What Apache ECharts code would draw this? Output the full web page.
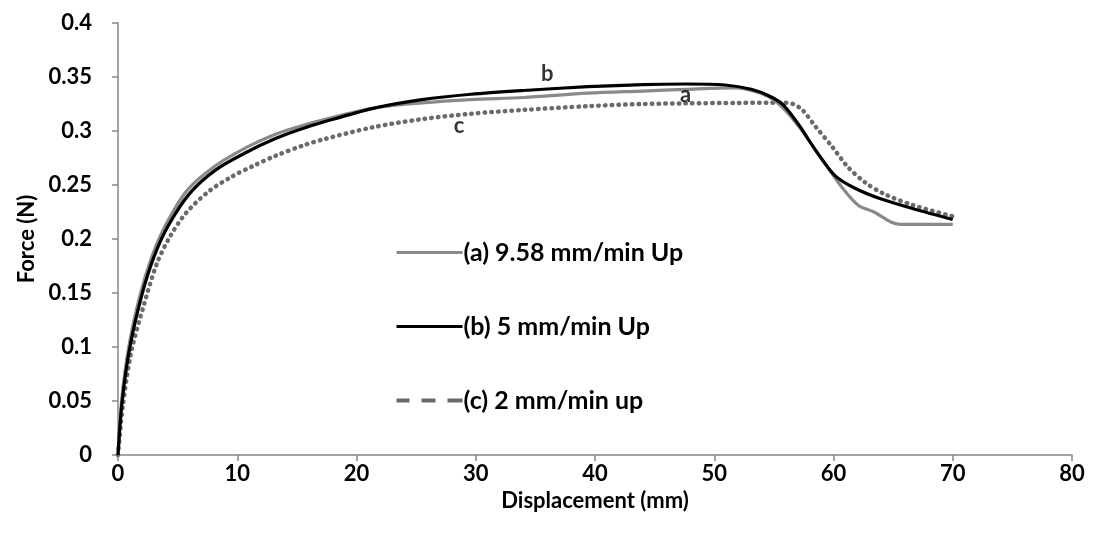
<!DOCTYPE html>
<html>
<head>
<meta charset="utf-8">
<script src="https://cdn.jsdelivr.net/npm/echarts@6/dist/echarts.min.js"></script>
<style>
html,body{margin:0;padding:0;background:#fff;}
#chart{width:1113px;height:542px;}
</style>
</head>
<body>
<div id="chart"></div>
<script>
// Series (a) 9.58 mm/min Up
const xA = [0, 0.3, 0.9, 1.85, 2.85, 4.0, 5.8, 8.2, 10.9, 13.2, 15, 17.3, 21.4, 25.5, 29.6, 34, 39.4, 44, 47.6, 51.7, 53.9, 55.2, 56.9, 59.1, 60.7, 62.1, 63.4, 64.8, 65.6, 70];
const yA = [0, 0.05, 0.1, 0.148, 0.184, 0.213, 0.245, 0.268, 0.2855, 0.297, 0.3035, 0.3105, 0.3212, 0.326, 0.329, 0.331, 0.335, 0.337, 0.3386, 0.340, 0.335, 0.327, 0.307, 0.273, 0.248, 0.231, 0.225, 0.2157, 0.2136, 0.2136];
// Series (b) 5 mm/min Up
const xB = [0, 0.35, 1.0, 2.0, 3.0, 4.2, 6, 8.2, 10.9, 13.2, 15, 17.3, 21.4, 25.5, 29.6, 34, 39.4, 44, 47.6, 50.9, 53.1, 54.7, 55.8, 57.2, 58.5, 60.1, 61.8, 64, 66.7, 70];
const yB = [0, 0.05, 0.1, 0.148, 0.183, 0.212, 0.242, 0.264, 0.281, 0.293, 0.3005, 0.3085, 0.321, 0.329, 0.334, 0.3375, 0.341, 0.343, 0.3435, 0.3426, 0.3386, 0.332, 0.324, 0.304, 0.282, 0.259, 0.247, 0.237, 0.228, 0.218];
// Series (c) 2 mm/min up
const xC = [0, 0.4, 1.1, 2.2, 3.25, 4.35, 5.7, 7.6, 9.5, 11.4, 13.2, 15.5, 17.3, 21.4, 25.5, 29.6, 34, 39.4, 44, 47.6, 52, 55.8, 56.6, 57.4, 58.5, 59.9, 61.2, 62.6, 64.2, 66.7, 70];
const yC = [0, 0.045, 0.095, 0.14, 0.177, 0.202, 0.224, 0.244, 0.2575, 0.268, 0.277, 0.2865, 0.2925, 0.3035, 0.311, 0.316, 0.3195, 0.323, 0.325, 0.3256, 0.326, 0.3262, 0.325, 0.3194, 0.304, 0.2853, 0.2667, 0.2528, 0.242, 0.2312, 0.221];

const seriesNames = ['(a) 9.58 mm/min Up', '(b) 5 mm/min Up', '(c) 2 mm/min up'];
const seriesColors = ['#8a8a8a', '#000000', '#6a6a6a'];
const curveTags = ['a', 'b', 'c'];
const tagX = [47.6, 36.0, 28.6];
const tagY = [0.333, 0.353, 0.305];

const xTicks = [0, 10, 20, 30, 40, 50, 60, 70, 80];
const yTicks = [0, 0.05, 0.1, 0.15, 0.2, 0.25, 0.3, 0.35, 0.4];

const FONT = 'Lato';
const FS = 22;
const LFS = 25;
const zip = (xs, ys) => xs.map((x, i) => [x, ys[i]]);

// legend icon for the dashed series: three dashes inside a 66x14 box
const dashIcon = 'path://M0,0h0.01v0.01h-0.01zM0,5h13v4h-13zM25,5h14v4h-14zM51,5h15v4h-15zM66,14h-0.01v-0.01h0.01z';

const chart = echarts.init(document.getElementById('chart'), null, {renderer: 'canvas'});

const option = {
  animation: false,
  backgroundColor: '#ffffff',
  color: seriesColors,
  textStyle: {fontFamily: FONT},
  grid: {left: 118, right: 41, top: 23, bottom: 87, containLabel: false},
  legend: {
    orient: 'vertical',
    left: 390,
    top: 235,
    itemWidth: 66,
    itemHeight: 14,
    itemGap: 49,
    selectedMode: false,
    textStyle: {fontFamily: FONT, fontWeight: 'bold', fontSize: LFS, color: '#000', padding: [0, 0, 0, -4]},
    data: [
      {name: seriesNames[0], itemStyle: {opacity: 0}, lineStyle: {color: seriesColors[0], width: 3, type: 'solid'}},
      {name: seriesNames[1], itemStyle: {opacity: 0}, lineStyle: {color: seriesColors[1], width: 3, type: 'solid'}},
      {name: seriesNames[2], icon: dashIcon, itemStyle: {color: seriesColors[2], opacity: 1, borderWidth: 0}}
    ]
  },
  xAxis: {
    type: 'value',
    min: 0, max: 80, interval: 10,
    name: 'Displacement (mm)',
    nameLocation: 'middle',
    nameGap: 29,
    nameTextStyle: {fontFamily: FONT, fontWeight: 'bold', fontSize: FS, color: '#000'},
    axisLine: {show: true, lineStyle: {color: '#868686', width: 1.5}},
    axisTick: {show: true, inside: false, length: 6, lineStyle: {color: '#868686', width: 1.5}},
    axisLabel: {fontFamily: FONT, fontWeight: 'bold', fontSize: FS, color: '#000', margin: 8,
      formatter: v => xTicks.includes(v) ? String(v) : ''},
    splitLine: {show: false}
  },
  yAxis: {
    type: 'value',
    min: 0, max: 0.4, interval: 0.05,
    name: 'Force (N)',
    nameLocation: 'middle',
    nameGap: 80,
    nameRotate: 90,
    nameTextStyle: {fontFamily: FONT, fontWeight: 'bold', fontSize: FS, color: '#000'},
    axisLine: {show: true, lineStyle: {color: '#868686', width: 1.5}},
    axisTick: {show: true, inside: false, length: 6, lineStyle: {color: '#868686', width: 1.5}},
    axisLabel: {fontFamily: FONT, fontWeight: 'bold', fontSize: FS, color: '#000', margin: 26,
      formatter: v => {
        const t = yTicks.find(k => Math.abs(k - v) < 1e-9);
        return t === undefined ? '' : String(+t.toFixed(2));
      }},
    splitLine: {show: false}
  },
  series: [
    {
      name: seriesNames[0], type: 'line', data: zip(xA, yA), showSymbol: false, symbol: 'none',
      smooth: 0.3, z: 3, itemStyle: {color: seriesColors[0]},
      lineStyle: {color: seriesColors[0], width: 3.2}
    },
    {
      name: seriesNames[1], type: 'line', data: zip(xB, yB), showSymbol: false, symbol: 'none',
      smooth: 0.3, z: 4, itemStyle: {color: seriesColors[1]},
      lineStyle: {color: seriesColors[1], width: 3.2}
    },
    {
      name: seriesNames[2], type: 'line', data: zip(xC, yC), showSymbol: false, symbol: 'none',
      smooth: 0.3, z: 2, itemStyle: {color: seriesColors[2]},
      lineStyle: {color: seriesColors[2], width: 4.5, type: [0.5, 6.2], cap: 'round'}
    },
    {
      name: 'tags', type: 'scatter', symbolSize: 0, z: 5, silent: true,
      data: curveTags.map((t, i) => ({value: [tagX[i], tagY[i]], tag: t})),
      label: {show: true, position: 'inside', formatter: p => p.data.tag,
        fontFamily: FONT, fontWeight: 'bold', fontSize: FS, color: '#000'}
    }
  ]
};
chart.setOption(option);
</script>
</body>
</html>
